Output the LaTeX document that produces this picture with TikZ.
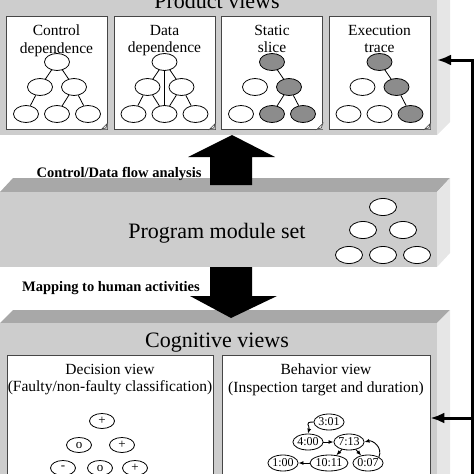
\documentclass[tikz,border=0pt]{standalone}
\usepackage{fontspec}
\setmainfont{Liberation Serif}
\usepackage{xcolor}
\usepackage{tikz}
\usetikzlibrary{arrows,arrows.meta,shapes.geometric}

\definecolor{slabfront}{RGB}{205,205,205}
\definecolor{slabside}{RGB}{230,230,230}
\definecolor{slabtop}{RGB}{168,168,168}
\definecolor{slicegray}{RGB}{140,140,140}
\definecolor{panelline}{RGB}{70,70,70}

\newcommand{\dogear}[1]{%
  \fill[slabfront] (#1.south east) -- ++(-6,0) -- ++(6,-6) -- cycle;
  \draw[panelline, fill=white, line width=0.6pt] (#1.south east) ++(-6,0) -- ++(6,-6) -- ++(-1.5,4.5) -- cycle;}

\begin{document}
\begin{tikzpicture}[x=1pt, y=-1pt,
  panel/.style={draw=panelline, fill=white, line width=0.7pt, minimum width=101pt, minimum height=113pt, inner sep=0},
  cpanel/.style={draw=panelline, fill=white, line width=0.7pt, minimum height=140pt, inner sep=0},
  vnode/.style={ellipse, draw, fill=white, line width=0.8pt, minimum width=25pt, minimum height=17pt, inner sep=0},
  hit/.style={vnode, fill=slicegray},
  mnode/.style={vnode, minimum width=27pt},
  dnode/.style={ellipse, draw, fill=white, line width=0.8pt, minimum width=25pt, minimum height=15pt, inner sep=0, font=\fontsize{13}{13}\selectfont},
  tnode/.style={ellipse, draw, fill=white, line width=0.8pt, minimum width=27pt, minimum height=16pt, inner sep=0, font=\fontsize{12}{12}\selectfont},
  lbl/.style={font=\fontsize{15.5}{17.5}\selectfont, align=center, anchor=north, inner sep=0},
  title/.style={font=\fontsize{22}{26}\selectfont, anchor=base, inner sep=0},
  note/.style={font=\bfseries\fontsize{14.5}{16}\selectfont, anchor=base, inner sep=0},
  tarr/.style={-{Latex[length=5pt,width=4pt]}, line width=0.9pt},
  fb/.style={line width=3pt, -{Latex[length=14pt,width=11pt]}}]

\useasboundingbox (0,0) rectangle (474,474);

\fill[slabfront] (0,-20) rectangle (437,135);
\fill[slabside] (437,-20) -- (450,-20) -- (450,122) -- (437,135) -- cycle;

\fill[slabtop] (0,192) -- (13,178) -- (450,178) -- (437,192) -- cycle;
\fill[slabfront] (0,192) rectangle (437,267);
\fill[slabside] (437,192) -- (450,178) -- (450,253) -- (437,267) -- cycle;

\fill[slabtop] (0,323) -- (13,310) -- (450,310) -- (437,323) -- cycle;
\fill[slabfront] (0,323) rectangle (437,480);
\fill[slabside] (437,323) -- (450,310) -- (450,480) -- (437,480) -- cycle;

\node[title] (pv) at (217,8) {Product views};
\node[title] (pm) at (217,238) {Program module set};
\node[title] (cv) at (217,347) {Cognitive views};

\node[panel] (cd) at (56.5,72.5) {};
\node[panel] (dd) at (164.5,72.5) {};
\node[panel] (ss) at (272,72.5) {};
\node[panel] (et) at (379.5,72.5) {};
\dogear{cd} \dogear{dd} \dogear{ss} \dogear{et}

\node[lbl] (cdl) at (56.5,25) {Control\\dependence};
\node[lbl] (ddl) at (164.5,25) {Data\\dependence};
\node[lbl] (ssl) at (272,25) {Static\\slice};
\node[lbl] (etl) at (379.5,25) {Execution\\trace};

\node[vnode] (c1) at (57,62) {};
\node[vnode] (c2) at (40,87) {};
\node[vnode] (c3) at (74,87) {};
\node[vnode] (c4) at (26,114) {};
\node[vnode] (c5) at (57,114) {};
\node[vnode] (c6) at (88,114) {};
\draw[line width=0.8pt] (c1) -- (c2); \draw[line width=0.8pt] (c1) -- (c3);
\draw[line width=0.8pt] (c2) -- (c4); \draw[line width=0.8pt] (c3) -- (c5); \draw[line width=0.8pt] (c3) -- (c6);

\node[vnode] (d1) at (164.5,62) {};
\node[vnode] (d2) at (147.5,87) {};
\node[vnode] (d3) at (181.5,87) {};
\node[vnode] (d4) at (133.5,114) {};
\node[vnode] (d5) at (164.5,114) {};
\node[vnode] (d6) at (195.5,114) {};
\draw[line width=0.8pt] (d1) -- (d2); \draw[line width=0.8pt] (d1) -- (d3); \draw[line width=0.8pt] (d1) -- (d5);
\draw[line width=0.8pt] (d2) -- (d4); \draw[line width=0.8pt] (d2) -- (d5);
\draw[line width=0.8pt] (d3) -- (d5); \draw[line width=0.8pt] (d3) -- (d6);

\node[hit] (s1) at (272,62) {};
\node[vnode] (s2) at (255,87) {};
\node[hit] (s3) at (289,87) {};
\node[vnode] (s4) at (241,114) {};
\node[hit] (s5) at (272,114) {};
\node[hit] (s6) at (303,114) {};
\draw[line width=0.8pt] (s1) -- (s3); \draw[line width=0.8pt] (s3) -- (s5); \draw[line width=0.8pt] (s3) -- (s6);

\node[hit] (e1) at (379.5,62) {};
\node[vnode] (e2) at (362.5,87) {};
\node[hit] (e3) at (396.5,87) {};
\node[vnode] (e4) at (348.5,114) {};
\node[vnode] (e5) at (379.5,114) {};
\node[hit] (e6) at (410.5,114) {};
\draw[line width=0.8pt] (e1) -- (e3); \draw[line width=0.8pt] (e3) -- (e6);

\node[mnode] (m1) at (383,207) {};
\node[mnode] (m2) at (363,230) {};
\node[mnode] (m3) at (403,230) {};
\node[mnode] (m4) at (349,255) {};
\node[mnode] (m5) at (383,255) {};
\node[mnode] (m6) at (417,255) {};

\fill (210,185) -- (210,157) -- (188,157) -- (232,135) -- (275,157) -- (252,157) -- (252,185) -- cycle;
\fill (210,267) -- (252,267) -- (252,296) -- (277,296) -- (231,318) -- (190,296) -- (210,296) -- cycle;

\node[note] (cfa) at (119,177) {Control/Data flow analysis};
\node[note] (mha) at (111,291) {Mapping to human activities};

\node[cpanel, minimum width=206pt] (dv) at (110,425) {};
\node[cpanel, minimum width=208pt] (bv) at (326,425) {};

\node[lbl] (dvl) at (110,364) {Decision view\\(Faulty/non-faulty classification)};
\node[lbl] (bvl) at (326,364) {Behavior view\\(Inspection target and duration)};

\node[dnode] (p1) at (102,421) {+};
\node[dnode] (p2) at (79,445) {o};
\node[dnode] (p3) at (122,445) {+};
\node[dnode] (p4) at (63,468) {-};
\node[dnode] (p5) at (100,468) {o};
\node[dnode] (p6) at (135,468) {+};

\node[tnode] (b301) at (329,422) {3:01};
\node[tnode] (b400) at (308,442) {4:00};
\node[tnode] (b713) at (349,442) {7:13};
\node[tnode] (b100) at (283,463) {1:00};
\node[tnode] (b1011) at (329,463) {10:11};
\node[tnode] (b007) at (368,463) {0:07};
\draw[tarr] (b301.west) .. controls +(-10,0) and +(2,-8) .. (b400.north);
\draw[tarr] (b400) -- (b713);
\draw[tarr] (b713) -- (b1011);
\draw[tarr] (b713) -- (b007);
\draw[tarr] (b007.north east) .. controls +(4,-10) and +(8,-2) .. (b713.east);
\draw[tarr] (b1011) -- (b100);

\coordinate (fbtop) at (472,60);
\coordinate (fbbot) at (472,480);
\coordinate (fbmid) at (472,418);
\coordinate (pvin) at (437,60);
\draw[fb] (fbbot) -- (fbtop) -- (pvin);
\draw[fb] (fbmid) -- (bv.east |- fbmid);

\end{tikzpicture}
\end{document}
